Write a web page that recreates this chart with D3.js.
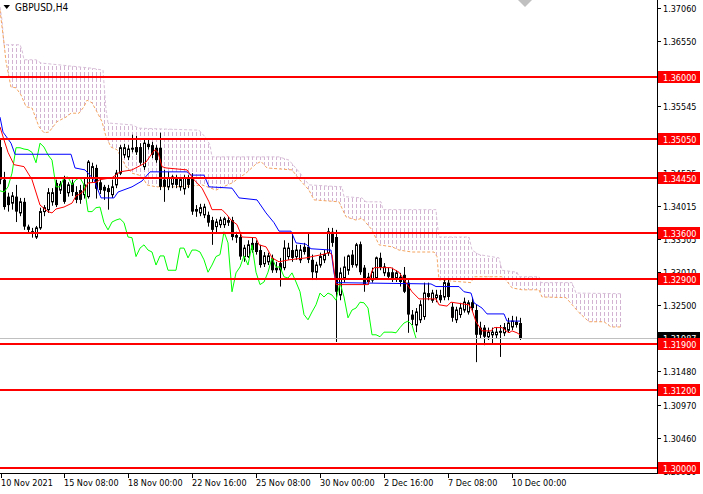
<!DOCTYPE html>
<html lang="en">
<head>
<meta charset="UTF-8">
<title>GBPUSD H4</title>
<script src="https://cdn.jsdelivr.net/npm/d3@7"></script>
<style>
  body { margin: 0; background: #fff; }
  svg { display: block; }
  text { font-family: "DejaVu Sans Condensed", "Liberation Sans", sans-serif; }
</style>
</head>
<body>
<div id="chart"></div>
<script>
// H4 candles, bar 0 = 10 Nov 2021
const opens = [1.3492,1.3442,1.3416,1.3406,1.3416,1.3391,1.3408,1.3370,1.3363,1.3354,
  1.3368,1.3393,1.3396,1.3408,1.3437,1.3426,1.3442,1.3422,1.3437,1.3423,
  1.3426,1.3419,1.3416,1.3445,1.3460,1.3438,1.3431,1.3429,1.3419,1.3434,
  1.3452,1.3480,1.3477,1.3491,1.3492,1.3492,1.3462,1.3497,1.3495,1.3491,
  1.3491,1.3442,1.3431,1.3435,1.3445,1.3431,1.3428,1.3445,1.3446,1.3397,
  1.3391,1.3388,1.3388,1.3380,1.3370,1.3373,1.3373,1.3380,1.3380,1.3357,
  1.3354,1.3324,1.3324,1.3345,1.3345,1.3334,1.3313,1.3316,1.3322,1.3307,
  1.3314,1.3307,1.3324,1.3334,1.3324,1.3319,1.3339,1.3339,1.3319,1.3300,
  1.3311,1.3319,1.3330,1.3362,1.3354,1.3265,1.3291,1.3303,1.3327,1.3311,
  1.3343,1.3307,1.3293,1.3288,1.3291,1.3322,1.3299,1.3300,1.3300,1.3291,
  1.3293,1.3296,1.3284,1.3235,1.3219,1.3227,1.3232,1.3268,1.3257,1.3261,
  1.3265,1.3262,1.3284,1.3247,1.3227,1.3235,1.3242,1.3239,1.3254,1.3242,
  1.3215,1.3215,1.3201,1.3204,1.3204,1.3210,1.3207,1.3211,1.3216,1.3224,
  1.3222];
const highs = [1.3503,1.3454,1.3422,1.3423,1.3434,1.3414,1.3414,1.3373,1.3368,1.3371,
  1.3399,1.3403,1.3429,1.3429,1.3442,1.3440,1.3448,1.3438,1.3442,1.3432,
  1.3434,1.3445,1.3472,1.3468,1.3465,1.3445,1.3434,1.3434,1.3442,1.3457,
  1.3495,1.3497,1.3495,1.3511,1.3509,1.3498,1.3503,1.3503,1.3500,1.3495,
  1.3514,1.3457,1.3454,1.3449,1.3449,1.3446,1.3449,1.3449,1.3452,1.3403,
  1.3405,1.3405,1.3393,1.3385,1.3382,1.3385,1.3385,1.3385,1.3385,1.3362,
  1.3360,1.3342,1.3349,1.3353,1.3349,1.3342,1.3331,1.3330,1.3327,1.3316,
  1.3322,1.3349,1.3345,1.3360,1.3342,1.3342,1.3345,1.3360,1.3327,1.3316,
  1.3330,1.3334,1.3368,1.3368,1.3365,1.3307,1.3324,1.3327,1.3334,1.3345,
  1.3347,1.3311,1.3299,1.3307,1.3324,1.3330,1.3314,1.3307,1.3307,1.3303,
  1.3299,1.3308,1.3288,1.3242,1.3245,1.3257,1.3284,1.3284,1.3273,1.3273,
  1.3273,1.3288,1.3288,1.3253,1.3247,1.3253,1.3261,1.3257,1.3261,1.3250,
  1.3224,1.3219,1.3215,1.3215,1.3216,1.3219,1.3222,1.3230,1.3233,1.3232,
  1.3230];
const lows = [1.3435,1.3396,1.3393,1.3396,1.3377,1.3386,1.3365,1.3360,1.3353,1.3351,
  1.3365,1.3386,1.3391,1.3402,1.3400,1.3420,1.3405,1.3416,1.3417,1.3406,
  1.3405,1.3413,1.3413,1.3438,1.3413,1.3420,1.3411,1.3396,1.3414,1.3429,
  1.3449,1.3475,1.3472,1.3484,1.3480,1.3465,1.3457,1.3488,1.3475,1.3468,
  1.3426,1.3408,1.3426,1.3429,1.3429,1.3425,1.3419,1.3429,1.3388,1.3385,
  1.3386,1.3383,1.3370,1.3342,1.3360,1.3368,1.3368,1.3371,1.3349,1.3345,
  1.3319,1.3316,1.3322,1.3330,1.3327,1.3307,1.3308,1.3311,1.3299,1.3299,
  1.3278,1.3303,1.3319,1.3316,1.3319,1.3314,1.3327,1.3314,1.3288,1.3288,
  1.3307,1.3314,1.3325,1.3339,1.3193,1.3257,1.3284,1.3296,1.3307,1.3307,
  1.3296,1.3270,1.3281,1.3284,1.3288,1.3303,1.3294,1.3288,1.3285,1.3285,
  1.3278,1.3268,1.3207,1.3219,1.3208,1.3222,1.3227,1.3257,1.3253,1.3254,
  1.3253,1.3257,1.3257,1.3224,1.3222,1.3230,1.3238,1.3235,1.3239,1.3162,
  1.3199,1.3188,1.3196,1.3191,1.3199,1.3170,1.3202,1.3207,1.3211,1.3215,
  1.3196];
const closes = [1.3442,1.3400,1.3403,1.3417,1.3393,1.3408,1.3370,1.3365,1.3359,1.3368,
  1.3393,1.3399,1.3422,1.3422,1.3403,1.3435,1.3408,1.3434,1.3423,1.3411,
  1.3411,1.3434,1.3469,1.3462,1.3428,1.3426,1.3425,1.3423,1.3431,1.3452,
  1.3491,1.3491,1.3489,1.3488,1.3484,1.3468,1.3498,1.3492,1.3480,1.3472,
  1.3431,1.3431,1.3445,1.3446,1.3434,1.3442,1.3445,1.3434,1.3393,1.3393,
  1.3399,1.3400,1.3376,1.3365,1.3377,1.3380,1.3382,1.3376,1.3354,1.3353,
  1.3324,1.3337,1.3342,1.3334,1.3331,1.3311,1.3325,1.3325,1.3303,1.3303,
  1.3303,1.3337,1.3337,1.3322,1.3334,1.3334,1.3331,1.3319,1.3300,1.3311,
  1.3324,1.3327,1.3362,1.3345,1.3270,1.3299,1.3308,1.3325,1.3311,1.3342,
  1.3300,1.3281,1.3285,1.3300,1.3322,1.3308,1.3308,1.3293,1.3291,1.3299,
  1.3285,1.3270,1.3235,1.3227,1.3239,1.3250,1.3268,1.3262,1.3268,1.3265,
  1.3257,1.3284,1.3262,1.3230,1.3242,1.3245,1.3254,1.3253,1.3245,1.3204,
  1.3204,1.3201,1.3208,1.3208,1.3208,1.3207,1.3215,1.3222,1.3225,1.3219,
  1.31987];

// Ichimoku lines: [bar, price]
const tenkan = [[0,1.3523],[1,1.3503],[2,1.3484],[3.5,1.3465],[6,1.3462],[8,1.3442],[10,1.3403],
  [12,1.3393],[13,1.3391],[14,1.3397],[16,1.3400],[18,1.3406],[19,1.3417],[20,1.3420],[21,1.3425],
  [22,1.3437],[24,1.3438],[25,1.3442],[28,1.3445],[30,1.3454],[33,1.3457],[35.5,1.3465],[36.5,1.3469],
  [37.75,1.3480],[38.75,1.3488],[39.5,1.3484],[40.5,1.3462],[41.5,1.3460],[46.75,1.3457],[48.5,1.3442],
  [50.5,1.3429],[52.25,1.3408],[53,1.3396],[55.5,1.3396],[56.75,1.3388],[57.75,1.3380],[59.25,1.3373],
  [60.5,1.3354],[64,1.3353],[64.75,1.3342],[66.5,1.3339],[67.25,1.3331],[68,1.3322],[69.75,1.3316],
  [72.25,1.3319],[76.5,1.3322],[78,1.3324],[80.5,1.3327],[82.25,1.3330],[83,1.3327],[84,1.3281],
  [92,1.3281],[93,1.3302],[93.5,1.3307],[97.75,1.3307],[99.75,1.3300],[101.5,1.3284],[103,1.3270],
  [104.75,1.3259],[109,1.3259],[109.75,1.3250],[111.75,1.3248],[112.75,1.3254],[117.25,1.3250],
  [118,1.3242],[119,1.3224],[120.5,1.3210],[122.75,1.3210],[123.5,1.3215],[125.5,1.3215],
  [126.5,1.3210],[127.25,1.3207],[128,1.3210],[129.25,1.3207],[130,1.3204]];
const kijun = [[0,1.3538],[0.75,1.3515],[2.75,1.3498],[3.75,1.3481],[17.75,1.3481],[18.75,1.3460],
  [21.25,1.3457],[23.5,1.3442],[25.25,1.3414],[28.5,1.3414],[29.5,1.3423],[33,1.3431],[35.5,1.3440],
  [37.5,1.3454],[46.75,1.3454],[47.75,1.3449],[51,1.3449],[52.25,1.3431],[58,1.3429],[59.75,1.3414],
  [64.25,1.3411],[66.5,1.3391],[68.5,1.3376],[69.75,1.3363],[72.75,1.3363],[74,1.3345],[76.5,1.3343],
  [77.75,1.3336],[82.75,1.3334],[83.5,1.3299],[84,1.3284],[107.75,1.3282],[109,1.3278],[114.75,1.3278],
  [116,1.3270],[117.75,1.3268],[118.5,1.3253],[120.5,1.3245],[121.75,1.3236],[126,1.3236],
  [126.75,1.3225],[130,1.3225]];
const spanA = [[0,1.3702],[1,1.3652],[1.5,1.3623],[2.75,1.3584],[4,1.3583],[5.25,1.3572],[6.5,1.3554],
  [8,1.3552],[9.75,1.3523],[11,1.3514],[12.25,1.3515],[14.25,1.3531],[16.5,1.3538],[17.75,1.3544],
  [19.75,1.3544],[21,1.3554],[21.75,1.3564],[23,1.3560],[24.25,1.3546],[25.5,1.3531],[26.5,1.3508],
  [27.75,1.3492],[29.25,1.3488],[31.5,1.3462],[33,1.3452],[34.75,1.3449],[36,1.3442],[36.75,1.3434],
  [39,1.3431],[43.5,1.3431],[47.25,1.3432],[50.5,1.3434],[54,1.3426],[58,1.3437],[61.5,1.3452],
  [64,1.3466],[65.25,1.3470],[66.75,1.3460],[73,1.3457],[74.75,1.3443],[77.25,1.3426],[78.5,1.3411],
  [84.75,1.3408],[86.5,1.3385],[89,1.3380],[90.5,1.3383],[93,1.3365],[94.75,1.3342],[98,1.3339],
  [99.75,1.3334],[103,1.3331],[108.5,1.3331],[109.25,1.3324],[109.75,1.3288],[117.75,1.3284],
  [118.5,1.3293],[125.5,1.3293],[126.5,1.3288],[128,1.3276],[130.5,1.3273],[134.75,1.3273],
  [135.5,1.3262],[141.5,1.3261],[144.75,1.3238],[147.25,1.3224],[151,1.3224],[152.75,1.3216],
  [155.5,1.3216]];
const spanB = [[0,1.3707],[0.5,1.3687],[1,1.3649],[5,1.3649],[5.5,1.3641],[6,1.3626],[9,1.3626],
  [10.25,1.3621],[23,1.3613],[25.75,1.3610],[26.5,1.3549],[27,1.3529],[33,1.3526],[34.75,1.3521],
  [49.75,1.3518],[51.5,1.3506],[52.5,1.3495],[53,1.3477],[69.75,1.3477],[72.25,1.3472],[74.75,1.3454],
  [77.25,1.3434],[85.5,1.3431],[86,1.3416],[90.5,1.3414],[91.5,1.3408],[95.25,1.3408],[95.75,1.3396],
  [109,1.3396],[109.25,1.3377],[109.75,1.3354],[117.25,1.3354],[118,1.3334],[119.75,1.3327],
  [124.75,1.3322],[125.5,1.3303],[129.25,1.3300],[129.75,1.3293],[134.75,1.3293],[135.25,1.3284],
  [143,1.3284],[144,1.3268],[155.5,1.3267]];

const levels = [1.36000, 1.35050, 1.34450, 1.33600, 1.32900, 1.31900, 1.31200, 1.30000];
const priceTicks = [1.37060, 1.36550, 1.35545, 1.34525, 1.34015, 1.33505,
  1.33010, 1.32500, 1.31480, 1.30970, 1.30460, 1.29950];
const timeBars = [0, 16, 32, 48, 64, 80, 96, 112, 128];
const timeLabels = ["10 Nov 2021", "15 Nov 08:00", "18 Nov 00:00", "22 Nov 16:00", "25 Nov 08:00",
  "30 Nov 00:00", "2 Dec 16:00", "7 Dec 08:00", "10 Dec 00:00"];
const lastPrice = 1.31987;

// layout
const width = 703, height = 494;
const plotW = 657, plotH = 473;

const svg = d3.select("#chart").append("svg")
    .attr("width", width).attr("height", height);

const x = d3.scaleLinear().domain([0, 164.25]).range([0, plotW]);
const y = d3.scaleLinear().domain([1.29919, 1.37177]).range([plotH, 0]);
const px = b => Math.round(x(b)) + 0.5;

const line = d3.line().x(d => x(d[0])).y(d => y(d[1]));

const plot = svg.append("g");
plot.append("clipPath").attr("id", "plotclip")
  .append("rect").attr("width", plotW).attr("height", plotH);

// cloud: vertical dashed hatch clipped to the area between the spans
const cloudPts = spanB.concat(spanA.slice().reverse());
svg.append("clipPath").attr("id", "cloud")
  .append("path").attr("d", line(cloudPts) + "Z");

plot.append("g").attr("clip-path", "url(#cloud)")
  .selectAll("line").data(d3.range(0, 156))
  .join("line")
    .attr("x1", d => px(d)).attr("x2", d => px(d))
    .attr("y1", 0).attr("y2", plotH)
    .attr("stroke", "#d2b4d2").attr("stroke-dasharray", "4,2");

plot.append("path").attr("d", line(spanB))
    .attr("fill", "none").attr("stroke", "#d8bfd8").attr("stroke-dasharray", "3,2");
plot.append("path").attr("d", line(spanA))
    .attr("fill", "none").attr("stroke", "#f4a460").attr("stroke-dasharray", "3,2");

// candles
const bars = d3.range(closes.length);
const cg = plot.append("g").attr("clip-path", "url(#plotclip)");
cg.selectAll(".wick").data(bars).join("line")
    .attr("x1", i => px(i)).attr("x2", i => px(i))
    .attr("y1", i => y(highs[i])).attr("y2", i => y(lows[i]))
    .attr("stroke", "#000");
cg.selectAll(".body").data(bars).join("rect")
    .attr("x", i => closes[i] >= opens[i] ? px(i) - 1 : px(i) - 1.5)
    .attr("width", i => closes[i] >= opens[i] ? 2 : 3)
    .attr("y", i => y(Math.max(opens[i], closes[i])))
    .attr("height", i => Math.max(1, Math.abs(y(opens[i]) - y(closes[i]))))
    .attr("fill", i => closes[i] >= opens[i] ? "#fff" : "#000")
    .attr("stroke", i => closes[i] >= opens[i] ? "#000" : "none");

// chikou = close shifted back 26 bars
const chikou = closes.map((c, i) => [i - 26, c]).filter(d => d[0] >= 0);
plot.append("path").attr("d", line(chikou))
    .attr("fill", "none").attr("stroke", "#00ff00");
plot.append("path").attr("d", line(kijun))
    .attr("fill", "none").attr("stroke", "#0000ff");
plot.append("path").attr("d", line(tenkan))
    .attr("fill", "none").attr("stroke", "#ff0000");

// current price line
plot.append("line")
    .attr("x1", 0).attr("x2", plotW)
    .attr("y1", Math.round(y(lastPrice)) + 0.5).attr("y2", Math.round(y(lastPrice)) + 0.5)
    .attr("stroke", "#c0c0c0");

// horizontal levels
plot.selectAll(".lvl").data(levels).join("line")
    .attr("x1", 0).attr("x2", plotW)
    .attr("y1", d => Math.round(y(d))).attr("y2", d => Math.round(y(d)))
    .attr("stroke", "#ff0000").attr("stroke-width", 2);

// axes frame
svg.append("line").attr("x1", plotW + 0.5).attr("x2", plotW + 0.5)
    .attr("y1", 0).attr("y2", plotH + 1).attr("stroke", "#000");
svg.append("line").attr("x1", 0).attr("x2", plotW + 1)
    .attr("y1", plotH + 0.5).attr("y2", plotH + 0.5).attr("stroke", "#000");

// price scale
const pg = svg.append("g");
priceTicks.forEach(v => {
  const yy = Math.round(y(v)) + 0.5;
  pg.append("line").attr("x1", plotW).attr("x2", plotW + 4)
      .attr("y1", yy).attr("y2", yy).attr("stroke", "#000");
  pg.append("text").attr("x", 663).attr("y", yy + 3.5)
      .attr("font-size", 9).attr("fill", "#000").text(v.toFixed(5));
});

// current price tag, then level tags on top
const tag = (v, fill) => {
  const yy = Math.round(y(v));
  pg.append("rect").attr("x", 658).attr("y", yy - 6).attr("width", 42).attr("height", 12)
      .attr("fill", fill);
  pg.append("text").attr("x", 663).attr("y", yy + 3.5)
      .attr("font-size", 9).attr("fill", "#fff").text(v.toFixed(5));
};
tag(lastPrice, "#000");
levels.forEach(v => tag(v, "#ff0000"));

// time scale
timeBars.forEach((b, k) => {
  const xx = b === 0 ? 1.5 : px(b);
  svg.append("line").attr("x1", xx).attr("x2", xx)
      .attr("y1", plotH).attr("y2", plotH + 5).attr("stroke", "#000");
  svg.append("text").attr("x", xx - 0.5).attr("y", 486)
      .attr("font-size", 9).attr("fill", "#000").text(timeLabels[k]);
});

// title and shift marker
svg.append("path").attr("d", "M3.5,5 L10,5 L6.75,9 Z").attr("fill", "#000");
svg.append("text").attr("x", 15).attr("y", 11)
    .attr("font-size", 10).attr("fill", "#000").text("GBPUSD,H4");
svg.append("path").attr("d", "M518,0 L532,0 L525,7 Z").attr("fill", "#c0c0c0");
</script>
</body>
</html>
